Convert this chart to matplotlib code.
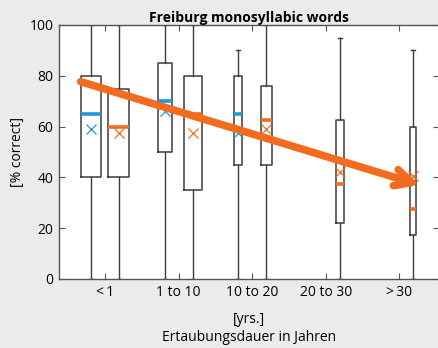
import matplotlib
matplotlib.use("Agg")
import matplotlib.pyplot as plt

plt.rcParams['font.family'] = ['Open Sans', 'DejaVu Sans']

# Duration-of-deafness groups
groups = ['<\u20091', '1 to 10', '10 to 20', '20 to 30', '>\u200930']

# First series (blue): only the first three groups
blue_q1 = [40, 50, 45]
blue_med = [65, 70, 65]
blue_q3 = [80, 85, 80]
blue_mean = [59, 66, 57.5]
blue_lo = [0, 0, 0]
blue_hi = [100, 100, 90]
blue_width = [0.26, 0.19, 0.105]

# Second series (orange): all groups
orange_q1 = [40, 35, 45, 22, 17.5]
orange_med = [60, 65, 62.5, 37.5, 27.5]
orange_q3 = [75, 80, 76, 62.5, 60]
orange_mean = [57.5, 57.5, 59, 42, 40.5]
orange_lo = [0, 0, 0, 0, 0]
orange_hi = [100, 100, 100, 95, 90]
orange_width = [0.285, 0.245, 0.15, 0.11, 0.08]

# Trend arrow (start / end in data units)
trend_x = [0.67, 5.28]
trend_y = [77.7, 37.0]

BLUE = '#1c9ad6'
ORANGE = '#f26b1f'
BG = '#ebebeb'
EDGE = '#3c3c3c'

fig = plt.figure(figsize=(4.38, 3.48), dpi=100, facecolor=BG)
ax = fig.add_axes([59 / 438, 1 - 279 / 348, 380 / 438, 254 / 348])
ax.set_facecolor('white')


def stats(q1, med, q3, mean, lo, hi):
    return [dict(q1=a, med=b, q3=c, mean=d, whislo=e, whishi=f, fliers=[])
            for a, b, c, d, e, f in zip(q1, med, q3, mean, lo, hi)]


def draw(st, pos, widths, color):
    ax.bxp(st, positions=pos, widths=widths, showmeans=True, showfliers=False,
           capwidths=[0.05] * len(st), patch_artist=False, manage_ticks=False,
           boxprops=dict(color=EDGE, linewidth=1.1),
           whiskerprops=dict(color=EDGE, linewidth=1.0),
           capprops=dict(color=EDGE, linewidth=1.0),
           medianprops=dict(color=color, linewidth=2.6, solid_capstyle='butt'),
           meanprops=dict(marker='x', markeredgecolor=color, markersize=7,
                          markeredgewidth=0.9, linestyle='none'))


off = 0.19
blue_pos = [i + 1 - off for i in range(len(blue_med))]
orange_pos = [i + 1 + off for i in range(len(orange_med))]
draw(stats(blue_q1, blue_med, blue_q3, blue_mean, blue_lo, blue_hi), blue_pos, blue_width, BLUE)
draw(stats(orange_q1, orange_med, orange_q3, orange_mean, orange_lo, orange_hi),
     orange_pos, orange_width, ORANGE)

ax.annotate('', xy=(trend_x[1], trend_y[1]), xytext=(trend_x[0], trend_y[0]),
            arrowprops=dict(arrowstyle='->,head_length=1.2,head_width=0.6',
                            color=ORANGE, lw=5.5, shrinkA=0, shrinkB=0,
                            joinstyle='round', capstyle='round'),
            zorder=5)

ax.set_xlim(0.375, 5.54)
ax.set_ylim(0, 100)
ax.set_xticks(range(1, len(groups) + 1))
ax.set_xticklabels(groups)
ax.set_yticks([0, 20, 40, 60, 80, 100])
ax.tick_params(direction='in', length=4, width=0.8, color='#555555',
               labelsize=10, top=True, right=True, pad=4)
for s in ax.spines.values():
    s.set_color('#555555')
    s.set_linewidth(1.0)

ax.set_ylabel('[% correct]', fontsize=10, labelpad=3)
ax.set_xlabel('[yrs.]\nErtaubungsdauer in Jahren', fontsize=10, labelpad=9,
              linespacing=1.3)
ax.set_title('Freiburg monosyllabic words', fontsize=10, fontweight='bold', pad=2)

fig.savefig('out.png', dpi=100, facecolor=BG)
